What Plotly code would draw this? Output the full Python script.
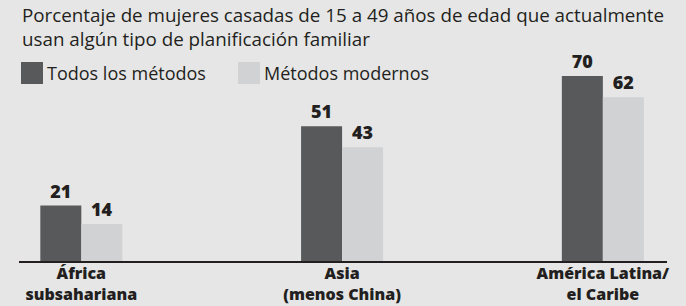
import plotly.graph_objects as go

# ---- data ----
categories = ["África<br>subsahariana", "Asia<br>(menos China)", "América Latina/<br>el Caribe"]
series_names = ["Todos los métodos", "Métodos modernos"]
todos = [21, 51, 70]
modernos = [14, 43, 62]
title_text = ("Porcentaje de mujeres casadas de 15 a 49 años de edad que actualmente<br>"
              "usan algún tipo de planificación familiar")

# ---- style ----
BG = "#e6e6e6"
DARK = "#58595b"
LIGHT = "#d1d2d4"
TXT = "#231f20"
FONT = "Open Sans"

W, H = 686, 306
ML, MR, MT, MB = 19, 19, 50, 45
PH = H - MT - MB
PW = W - ML - MR


def py(ypix):
    return (H - MB - ypix) / PH


def px(xpix):
    return (xpix - ML) / PW


fig = go.Figure()
for name, vals, col in [(series_names[0], todos, DARK), (series_names[1], modernos, LIGHT)]:
    fig.add_trace(go.Bar(
        x=categories, y=vals, name=name, marker=dict(color=col, line=dict(width=0)),
        text=[str(v) for v in vals], textposition="outside",
        textfont=dict(family=FONT, size=18, color=TXT, weight=800),
        cliponaxis=False, showlegend=False, hoverinfo="skip",
    ))

fig.update_layout(
    width=W, height=H,
    margin=dict(l=ML, r=MR, t=MT, b=MB, pad=0, autoexpand=False),
    paper_bgcolor=BG, plot_bgcolor=BG,
    barmode="group", bargap=0.6855, bargroupgap=0,
    font=dict(family=FONT, color=TXT),
    xaxis=dict(range=[-0.239, 2.246], showline=True, linecolor=TXT, linewidth=2,
               showgrid=False, zeroline=False, ticks="", automargin=False,
               ticklabelstandoff=-3,
               tickfont=dict(family=FONT, size=16, color=TXT, weight=800)),
    yaxis=dict(range=[0, 79.85], visible=False, showgrid=False, zeroline=False,
               automargin=False),
)

# title
fig.add_annotation(text=title_text, xref="paper", yref="paper", align="left",
                   x=px(20), y=py(0), xanchor="left", yanchor="top",
                   showarrow=False, font=dict(family=FONT, size=18.8, color=TXT))

# manual legend with large square swatches
legend_x = [21, 238]
for name, col, lx in zip(series_names, [DARK, LIGHT], legend_x):
    fig.add_shape(type="rect", xref="paper", yref="paper",
                  x0=px(lx), x1=px(lx + 22), y0=py(84), y1=py(62),
                  fillcolor=col, line=dict(width=0))
    fig.add_annotation(text=name, xref="paper", yref="paper",
                       x=px(lx + 24), y=py(73), xanchor="left", yanchor="middle",
                       showarrow=False, font=dict(family=FONT, size=18, color=TXT))

fig.write_html("out.html", config={"displayModeBar": False},
               post_script="document.body.style.margin='0';")
